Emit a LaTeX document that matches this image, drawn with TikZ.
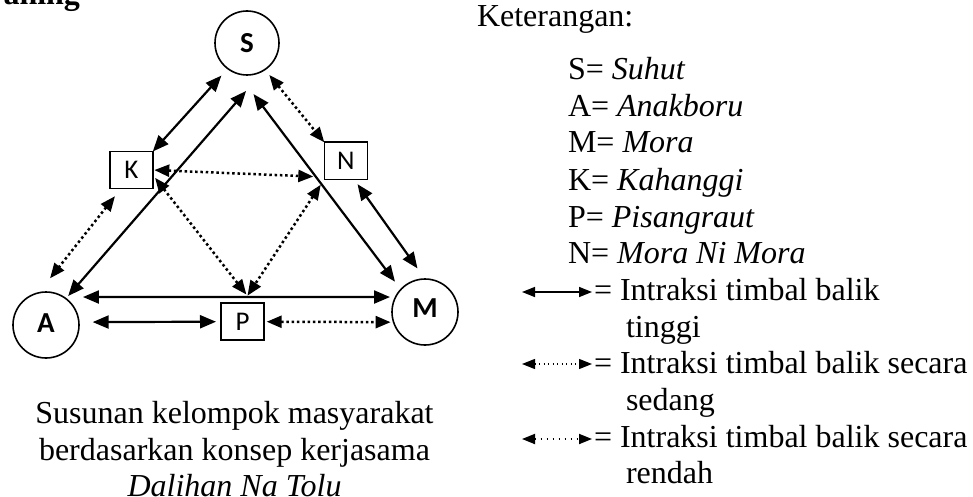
\documentclass[tikz,border=0pt]{standalone}
\usepackage{fontspec}
\setmainfont{Liberation Serif}
\newfontfamily\calibri{Carlito}
\usetikzlibrary{arrows.meta}
\begin{document}
\begin{tikzpicture}[x=1pt,y=-1pt,
  every node/.style={inner sep=0pt, outer sep=0pt},
  bigcircle/.style={circle, draw, line width=1.6pt, minimum size=#1,
    font=\calibri\bfseries\fontsize{29}{30}\selectfont},
  personbox/.style={rectangle, draw, line width=1.6pt, minimum width=43pt,
    minimum height=37pt, font=\calibri\fontsize{27}{30}\selectfont},
  strong/.style={line width=2.2pt,
    {Triangle[length=16pt,width=13pt]}-{Triangle[length=16pt,width=13pt]}},
  medium/.style={line width=2.5pt, dash pattern=on 2.5pt off 2.8pt,
    {Triangle[length=15pt,width=12pt]}-{Triangle[length=15pt,width=12pt]}},
  legstrong/.style={line width=1.5pt,
    {Triangle[length=13pt,width=10pt]}-{Triangle[length=13pt,width=10pt]}},
  legmed/.style={line width=1.3pt, dash pattern=on 1.3pt off 3.2pt,
    {Triangle[length=13pt,width=10pt]}-{Triangle[length=13pt,width=10pt]}},
  leglow/.style={line width=1.8pt, dash pattern=on 1.8pt off 4.2pt,
    {Triangle[length=13pt,width=10pt]}-{Triangle[length=13pt,width=10pt]}},
  txt/.style={anchor=base west, font=\fontsize{32}{36.7}\selectfont},
  captxt/.style={anchor=base, font=\fontsize{32}{36.7}\selectfont}
]
\useasboundingbox (0,0) rectangle (973,497);

% heading fragment
\node[anchor=base east, font=\bfseries\fontsize{32}{36}\selectfont] (head) at (80,5) {aning};

% nodes
\node[bigcircle=64pt] (S) at (247,43) {S};
\node[bigcircle=66pt] (A) at (46,325) {\raisebox{4pt}{A}};
\node[bigcircle=66pt] (M) at (425,312) {\raisebox{8pt}{M}};
\node[personbox] (K) at (131.3,170) {K};
\node[personbox] (N) at (345.8,160.8) {N};
\node[personbox] (P) at (242.5,321.7) {P};

% connectors
\draw[strong, shorten <=9.5pt] (S.233) -- (K.north east);
\draw[strong, shorten <=3.5pt, shorten >=28pt] (A.53) -- (S.-57);
\draw[strong, shorten <=25.4pt, shorten >=9.8pt] (S.254) -- (M.137);
\draw[medium, shorten <=7pt] (S.-56) -- (N.north west);
\draw[strong, shorten <=6pt, shorten >=13pt] (N.-66) -- (M.90);
\draw[medium, shorten <=1.5pt, shorten >=11pt] (K.east) -- (N.217);
\draw[medium, shorten <=3.7pt, shorten >=11pt] (K.-13) -- (P.60);
\draw[medium, shorten <=6.5pt, shorten >=9pt] (N.south west) -- (P.north);
\draw[medium, shorten <=9.8pt, shorten >=18.5pt] (K.241) -- (A.103);
\draw[strong, shorten <=19.5pt, shorten >=5.6pt] (A.58) -- (M.153);
\draw[strong, shorten <=13.8pt, shorten >=5pt] (A.5) -- (P.west);
\draw[medium, shorten <=2.7pt, shorten >=3pt] (P.east) -- (M.198);

% caption
\node[captxt] (cap1) at (234.5,423) {Susunan kelompok masyarakat};
\node[captxt] (cap2) at (234.5,460) {berdasarkan konsep kerjasama};
\node[captxt] (cap3) at (234.5,496) {\textit{Dalihan Na Tolu}};

% legend
\node[txt] (ket) at (477,27) {Keterangan:};
\node[txt] (lS) at (568,80) {S= \textit{Suhut}};
\node[txt] (lA) at (568,117) {A= \textit{Anakboru}};
\node[txt] (lM) at (568,153) {M= \textit{Mora}};
\node[txt] (lK) at (568,190) {K= \textit{Kahanggi}};
\node[txt] (lP) at (568,227) {P= \textit{Pisangraut}};
\node[txt] (lN) at (568,263) {N= \textit{Mora Ni Mora}};
\node[txt] (i1) at (594,300) {= Intraksi timbal balik};
\node[txt] (i1b) at (626,337) {tinggi};
\node[txt] (i2) at (594,373) {= Intraksi timbal balik secara};
\node[txt] (i2b) at (626,410) {sedang};
\node[txt] (i3) at (594,447) {= Intraksi timbal balik secara};
\node[txt] (i3b) at (626,483) {rendah};

\coordinate (l1a) at (522,292);
\coordinate (l1b) at (592,292);
\coordinate (l2a) at (522,364);
\coordinate (l2b) at (592,364);
\coordinate (l3a) at (522,439);
\coordinate (l3b) at (592,439);
\draw[legstrong] (l1a) -- (l1b);
\draw[legmed] (l2a) -- (l2b);
\draw[leglow] (l3a) -- (l3b);
\end{tikzpicture}
\end{document}
